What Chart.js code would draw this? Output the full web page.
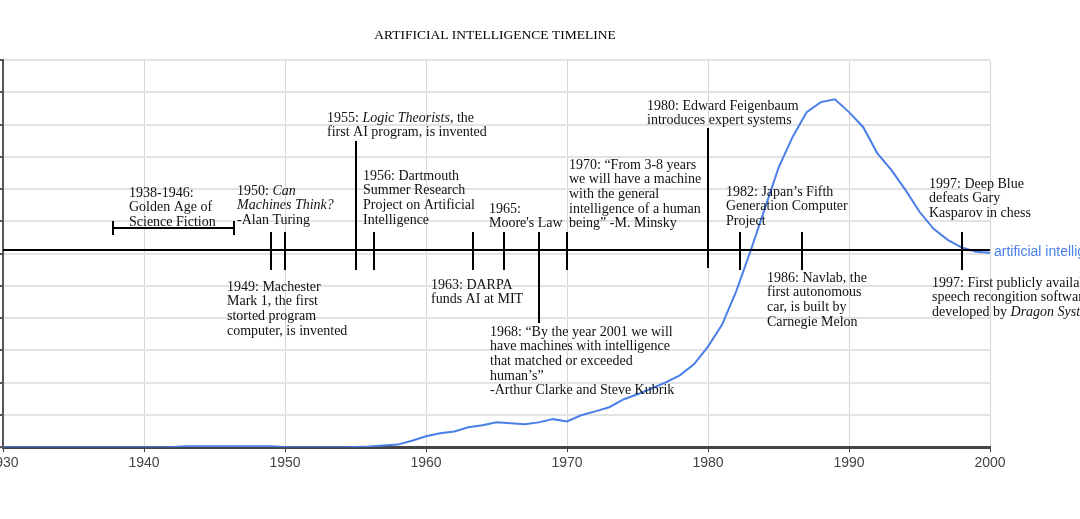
<!DOCTYPE html>
<html>
<head>
<meta charset="utf-8">
<script src="https://cdn.jsdelivr.net/npm/chart.js@4/dist/chart.umd.min.js"></script>
<style>
  html, body { margin: 0; padding: 0; background: #fff; overflow: hidden; }
  #caixa { position: absolute; left: -20px; top: 0; width: 1100px; height: 519px; }
</style>
</head>
<body>
<div id="caixa"><canvas id="grafico"></canvas></div>
<script>
// Série do Ngram: "artificial intelligence"
const anos = [1930, 1931, 1932, 1933, 1934, 1935, 1936, 1937, 1938, 1939,
              1940, 1941, 1942, 1943, 1944, 1945, 1946, 1947, 1948, 1949,
              1950, 1951, 1952, 1953, 1954, 1955, 1956, 1957, 1958, 1959,
              1960, 1961, 1962, 1963, 1964, 1965, 1966, 1967, 1968, 1969,
              1970, 1971, 1972, 1973, 1974, 1975, 1976, 1977, 1978, 1979,
              1980, 1981, 1982, 1983, 1984, 1985, 1986, 1987, 1988, 1989,
              1990, 1991, 1992, 1993, 1994, 1995, 1996, 1997, 1998, 1999, 2000];
const valores = [0, 0, 0, 0, 0, 0, 0, 0, 0, 0,
                 0, 0, 0.01, 0.03, 0.03, 0.03, 0.03, 0.03, 0.03, 0.03,
                 0.01, 0, 0, 0, 0, 0.01, 0.02, 0.05, 0.08, 0.2,
                 0.34, 0.43, 0.49, 0.62, 0.68, 0.77, 0.74, 0.71, 0.77, 0.87,
                 0.80, 0.99, 1.11, 1.24, 1.48, 1.64, 1.82, 2.01, 2.23, 2.57,
                 3.12, 3.80, 4.83, 6.06, 7.36, 8.66, 9.62, 10.39, 10.70, 10.79,
                 10.39, 9.93, 9.12, 8.60, 7.98, 7.30, 6.77, 6.43, 6.19, 6.06, 6.03];
const nomeSerie = 'artificial intelligence';

// Linha do tempo (posição dos marcos em anos)
const nivelLinhaTempo = 6.1;
const marcos = [1949, 1950, 1955, 1956.3, 1963.3, 1965.5, 1968, 1970, 1980, 1982.3, 1986.7, 1998];
const faixaEra = [1937.8, 1946.4];

// Textos dos eventos (*...* = itálico)
const textos = [
  ['1938-1946:', 'Golden Age of', 'Science Fiction'],
  ['1950: *Can*', '*Machines Think?*', '-Alan Turing'],
  ['1955: *Logic Theorists*, the', 'first AI program, is invented'],
  ['1956: Dartmouth', 'Summer Research', 'Project on Artificial', 'Intelligence'],
  ['1965:', "Moore's Law"],
  ['1970: \u201cFrom 3-8 years', 'we will have a machine', 'with the general', 'intelligence of a human', 'being\u201d -M. Minsky'],
  ['1980: Edward Feigenbaum', 'introduces expert systems'],
  ['1982: Japan\u2019s Fifth', 'Generation Computer', 'Project'],
  ['1997: Deep Blue', 'defeats Gary', 'Kasparov in chess'],
  ['1949: Machester', 'Mark 1, the first', 'storted program', 'computer, is invented'],
  ['1963: DARPA', 'funds AI at MIT'],
  ['1968: \u201cBy the year 2001 we will', 'have machines with intelligence', 'that matched or exceeded', 'human\u2019s\u201d', '-Arthur Clarke and Steve Kubrik'],
  ['1986: Navlab, the', 'first autonomous', 'car, is built by', 'Carnegie Melon'],
  ['1997: First publicly available', 'speech recongition software', 'developed by *Dragon Systems*']
];

// Layout: posição (px na página) de cada bloco de texto e comprimento das hastes
const DESLOC = 20;
const posTextos = [[129, 193], [237, 191], [327, 118], [363, 176], [489, 209], [569, 165], [647, 106],
                   [726, 192], [929, 184], [227, 287], [431, 285], [490, 332], [767, 278], [932, 283]];
const hastes = [[-18, 20], [-18, 20], [-109, 20], [-18, 20], [-18, 20], [-18, 20], [-18, 73],
                [-18, 20], [-122, 18], [-18, 20], [-18, 20], [-18, 20]];
const entreLinhas = 14.7;
const fonteSerif = '"Liberation Serif", "Times New Roman", serif';

function escreverLinha(ctx, linha, x, y) {
  const partes = linha.split('*');
  let cx = x;
  partes.forEach((p, i) => {
    if (!p) return;
    ctx.font = (i % 2 ? 'italic ' : '') + '14px ' + fonteSerif;
    ctx.fillText(p, cx, y);
    cx += ctx.measureText(p).width;
  });
}

const linhaTempo = {
  id: 'linhaTempo',
  afterDatasetsDraw(chart) {
    const { ctx, chartArea, scales: { x, y } } = chart;
    const y0 = Math.round(y.getPixelForValue(nivelLinhaTempo));
    ctx.save();
    ctx.strokeStyle = '#000';
    ctx.lineWidth = 2;
    ctx.beginPath();
    ctx.moveTo(chartArea.left, y0);
    ctx.lineTo(chartArea.right, y0);
    marcos.forEach((ano, i) => {
      const px = Math.round(x.getPixelForValue(ano));
      ctx.moveTo(px, y0 + hastes[i][0]);
      ctx.lineTo(px, y0 + hastes[i][1]);
    });
    // faixa 1938-1946
    const xa = Math.round(x.getPixelForValue(faixaEra[0]));
    const xb = Math.round(x.getPixelForValue(faixaEra[1]));
    ctx.moveTo(xa, y0 - 22); ctx.lineTo(xb, y0 - 22);
    ctx.moveTo(xa, y0 - 29); ctx.lineTo(xa, y0 - 15);
    ctx.moveTo(xb, y0 - 29); ctx.lineTo(xb, y0 - 15);
    ctx.stroke();

    ctx.fillStyle = '#111';
    ctx.textBaseline = 'middle';
    ctx.textAlign = 'left';
    textos.forEach((bloco, i) => {
      const [tx, ty] = posTextos[i];
      bloco.forEach((linha, j) => escreverLinha(ctx, linha, tx + DESLOC, ty + j * entreLinhas));
    });

    // rótulo da série
    const ult = chart.getDatasetMeta(0).data[anos.length - 1];
    ctx.font = '14px "Liberation Sans", Arial, sans-serif';
    ctx.fillStyle = '#4a7ee8';
    ctx.fillText(nomeSerie, ult.x + 4, ult.y - 1);
    ctx.restore();
  }
};

const ctx = document.getElementById('grafico').getContext('2d');
const grafico = new Chart(ctx, {
  type: 'line',
  data: {
    datasets: [{
      label: nomeSerie,
      data: anos.map((a, i) => ({ x: a, y: valores[i] })),
      borderColor: '#4a7ee8',
      borderWidth: 2,
      pointRadius: 0,
      tension: 0,
      fill: false
    }]
  },
  options: {
    responsive: true,
    maintainAspectRatio: false,
    animation: false,
    devicePixelRatio: 1,
    layout: { padding: { left: 20, right: 90, top: 0, bottom: 44 } },
    plugins: {
      legend: { display: false },
      tooltip: { enabled: false },
      title: {
        display: true,
        text: 'ARTIFICIAL INTELLIGENCE TIMELINE',
        color: '#000',
        font: { family: fonteSerif, size: 13.5, weight: 'normal' },
        padding: { top: 27, bottom: 17 }
      }
    },
    scales: {
      x: {
        type: 'linear',
        min: 1930,
        max: 2000,
        ticks: { stepSize: 10, color: '#444', padding: 3, font: { family: '"Liberation Sans", Arial, sans-serif', size: 14 },
                 callback: v => String(v) },
        grid: { color: '#d6d6d6', lineWidth: 1, tickLength: 5, tickColor: '#444' },
        border: { color: '#444', width: 3 }
      },
      y: {
        min: 0,
        max: 12,
        ticks: { stepSize: 1, display: false },
        grid: { color: '#e3e3e3', lineWidth: 2, tickLength: 3, tickColor: '#555' },
        border: { color: '#555', width: 2 }
      }
    }
  },
  plugins: [linhaTempo]
});
</script>
</body>
</html>
